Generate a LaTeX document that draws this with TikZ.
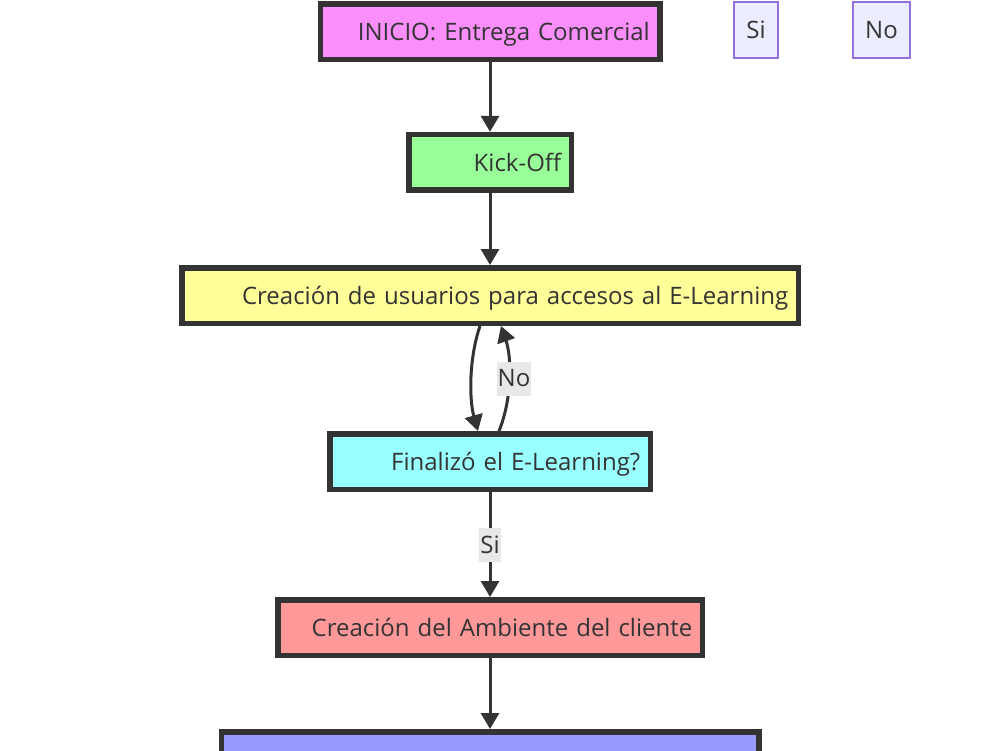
\documentclass[tikz,border=0pt]{standalone}
\usepackage{fontspec}
\setmainfont{Open Sans}
\usetikzlibrary{arrows.meta}
\definecolor{ink}{HTML}{333333}
\definecolor{fpink}{HTML}{FA8EFA}
\definecolor{fgreen}{HTML}{99FF99}
\definecolor{fyellow}{HTML}{FFFF99}
\definecolor{fcyan}{HTML}{99FFFF}
\definecolor{fred}{HTML}{FF9999}
\definecolor{fblue}{HTML}{9999FF}
\definecolor{lblbg}{HTML}{E8E8E8}
\definecolor{lgstroke}{HTML}{9370DB}
\definecolor{lgfill}{HTML}{ECECFF}
\begin{document}
\begin{tikzpicture}[x=1pt,y=-1pt,
  txt/.style={text=ink,font=\fontsize{24}{28}\selectfont},
  box/.style={txt,draw=ink,line width=5.5pt,minimum height=55.5pt,inner xsep=10pt,inner ysep=0pt,align=right,text height=18pt,text depth=0pt},
  conn/.style={draw=ink,line width=3pt,-{Triangle[length=16pt,width=18pt]}},
  lbl/.style={txt,fill=lblbg,inner xsep=1pt,inner ysep=0pt,minimum height=34pt},
  legend/.style={txt,draw=lgstroke,fill=lgfill,line width=1.2pt,minimum height=56pt,inner xsep=0pt,text height=16pt,text depth=0pt}]
\clip (0,0) rectangle (1000,750);
\fill[white] (0,0) rectangle (1000,750);

\node[box,fill=fpink,text width=319.5pt] (b1) at (490,31.5) {INICIO: Entrega Comercial};
\node[box,fill=fgreen,text width=142.5pt] (b2) at (490,162.3) {Kick-Off};
\node[box,fill=fyellow,text width=596.5pt] (b3) at (490,295.5) {Creación de usuarios para accesos al E-Learning};
\node[box,fill=fcyan,text width=300.5pt] (b4) at (490,461.5) {Finalizó el E-Learning?};
\node[box,fill=fred,text width=404.5pt] (b5) at (490,627.5) {Creación del Ambiente del cliente};
\node[box,fill=fblue,text width=517.5pt] (b6) at (490,759.5) {};

\node[legend,minimum width=44pt] (si) at (756,30) {Si};
\node[legend,minimum width=57pt] (no) at (881.5,30) {No};

\draw[conn] (b1) -- (b2);
\draw[conn] (b2) -- (b3);
\draw[conn] ([xshift=-10pt]b3.south) .. controls +(-11,32) and +(-9,-32) .. ([xshift=-12pt]b4.north);
\draw[conn] ([xshift=9pt]b4.north) .. controls +(13,-32) and +(11,32) .. ([xshift=11pt]b3.south)
  node[lbl,pos=0.5,xshift=5pt] (lno) {No};
\draw[conn] (b4) -- node[lbl] (lsi) {Si} (b5);
\draw[conn] (b5) -- (b6);
\end{tikzpicture}
\end{document}
